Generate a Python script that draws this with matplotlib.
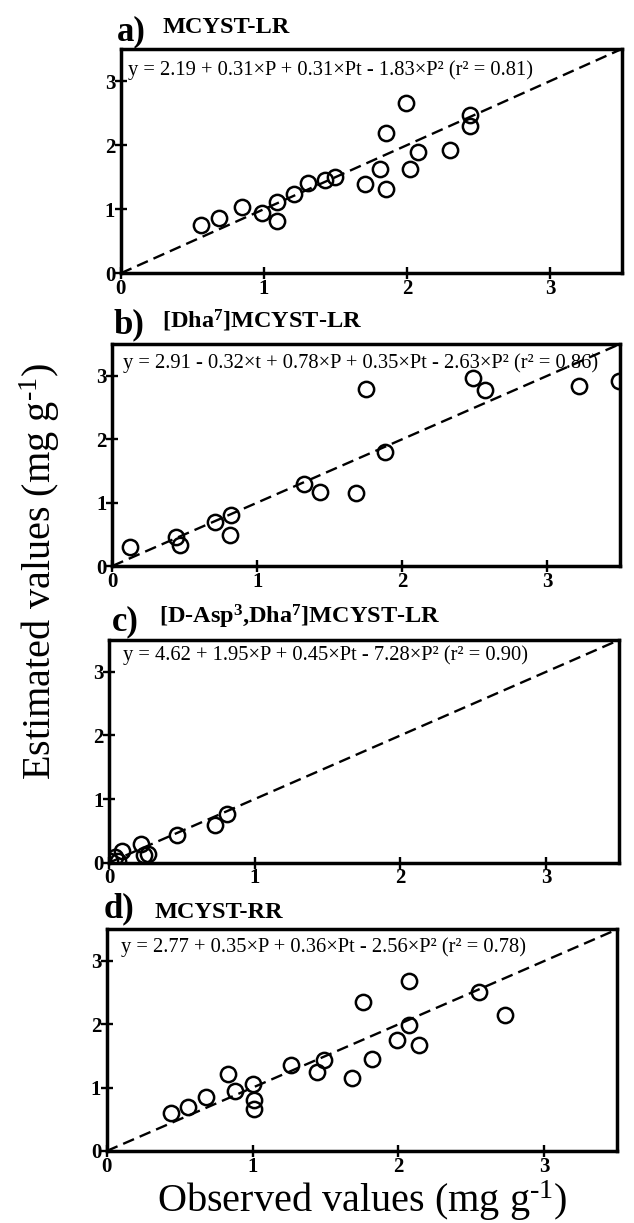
import matplotlib
matplotlib.use("Agg")
import matplotlib.pyplot as plt

plt.rcParams['font.family'] = ['Liberation Serif', 'DejaVu Serif']
plt.rcParams['mathtext.fontset'] = 'custom'
plt.rcParams['mathtext.rm'] = 'Liberation Serif'
plt.rcParams['mathtext.it'] = 'Liberation Serif:italic'
plt.rcParams['mathtext.bf'] = 'Liberation Serif:bold'

# ---- data ----
a_obs = [0.56, 0.69, 0.85, 0.99, 1.09, 1.09, 1.21, 1.31, 1.43, 1.50, 1.71, 1.81, 1.85, 1.85, 1.99, 2.02, 2.08, 2.30, 2.44, 2.44]
a_est = [0.75, 0.87, 1.03, 0.94, 1.12, 0.82, 1.23, 1.41, 1.45, 1.51, 1.40, 1.63, 2.19, 1.31, 2.66, 1.62, 1.89, 1.93, 2.47, 2.30]

b_obs = [0.12, 0.44, 0.47, 0.71, 0.82, 0.81, 1.32, 1.43, 1.68, 1.75, 1.88, 2.49, 2.57, 3.22, 3.49]
b_est = [0.30, 0.45, 0.33, 0.70, 0.80, 0.49, 1.29, 1.16, 1.15, 2.79, 1.79, 2.97, 2.77, 2.84, 2.92]

c_obs = [0.01, 0.06, 0.04, 0.09, 0.22, 0.24, 0.27, 0.47, 0.73, 0.81]
c_est = [0.03, 0.02, 0.09, 0.19, 0.30, 0.12, 0.14, 0.43, 0.59, 0.76]

d_obs = [0.44, 0.56, 0.68, 0.83, 0.88, 1.00, 1.01, 1.01, 1.26, 1.44, 1.49, 1.68, 1.76, 1.82, 1.99, 2.07, 2.07, 2.14, 2.55, 2.73]
d_est = [0.60, 0.69, 0.86, 1.22, 0.95, 1.06, 0.80, 0.66, 1.36, 1.24, 1.43, 1.15, 2.36, 1.46, 1.75, 2.69, 1.99, 1.68, 2.51, 2.14]

letters = ['a)', 'b)', 'c)', 'd)']
titles = ['MCYST-LR', r'[Dha$^{\mathbf{7}}$]MCYST-LR',
          r'[D-Asp$^{\mathbf{3}}$,Dha$^{\mathbf{7}}$]MCYST-LR', 'MCYST-RR']
equations = [
    'y = 2.19 + 0.31×P + 0.31×Pt - 1.83×P² (r² = 0.81)',
    'y = 2.91 - 0.32×t + 0.78×P + 0.35×Pt - 2.63×P² (r² = 0.86)',
    'y = 4.62 + 1.95×P + 0.45×Pt - 7.28×P² (r² = 0.90)',
    'y = 2.77 + 0.35×P + 0.36×Pt - 2.56×P² (r² = 0.78)',
]
ticks = [0, 1, 2, 3]
line_ends = [0, 3.5]

W, H = 634, 1223
fig = plt.figure(figsize=(W / 100, H / 100), dpi=100)

# axes boxes in pixels: left, top, right, bottom
boxes = [(120.7, 49, 621.7, 273.3),
         (112.3, 344, 620, 566),
         (109, 640, 619, 862.7),
         (106.7, 929.3, 617.3, 1151)]
letter_pos = [(117, 40), (113, 333), (112, 630), (104, 917)]
title_pos = [(163, 33), (162, 328), (159, 623), (155, 918)]
eq_pos = [(128, 75), (123, 368), (123, 660), (121, 952)]

data = [(a_obs, a_est), (b_obs, b_est), (c_obs, c_est), (d_obs, d_est)]

def fx(px):
    return px / W

def fy(py):
    return 1 - py / H

for i, (obs, est) in enumerate(data):
    l, t, r, b = boxes[i]
    ax = fig.add_axes([fx(l), fy(b), (r - l) / W, (b - t) / H])
    ax.plot(line_ends, line_ends, color='black', lw=1.7, ls=(0, (5, 2.6)), zorder=2)
    ax.plot(obs, est, ls='none', marker='o', ms=11, mfc='none', mec='black', mew=1.8, zorder=3)
    ax.set_xlim(0, 3.5)
    ax.set_ylim(0, 3.5)
    ax.set_xticks(ticks)
    ax.set_yticks(ticks)
    ax.set_xticklabels([str(v) for v in ticks], fontweight='bold', fontsize=15)
    ax.set_yticklabels([str(v) for v in ticks], fontweight='bold', fontsize=15)
    ax.tick_params(direction='inout', length=8, width=1.7, pad=0)
    for s in ax.spines.values():
        s.set_linewidth(2.5)
    fig.text(fx(letter_pos[i][0]), fy(letter_pos[i][1]), letters[i], fontsize=25,
             fontweight='bold', va='baseline', ha='left')
    fig.text(fx(title_pos[i][0]), fy(title_pos[i][1]), titles[i], fontsize=17.5,
             fontweight='bold', va='baseline', ha='left')
    fig.text(fx(eq_pos[i][0]), fy(eq_pos[i][1]), equations[i], fontsize=14.8,
             va='baseline', ha='left')

fig.text(fx(362), fy(1212), r'Observed values (mg g$^{\text{-1}}$)', fontsize=29,
         ha='center', va='baseline')
fig.text(fx(40), fy(571), r'Estimated values (mg g$^{\text{-1}}$)', fontsize=29,
         ha='center', va='center', rotation=90)

fig.savefig('out.png', dpi=100)
